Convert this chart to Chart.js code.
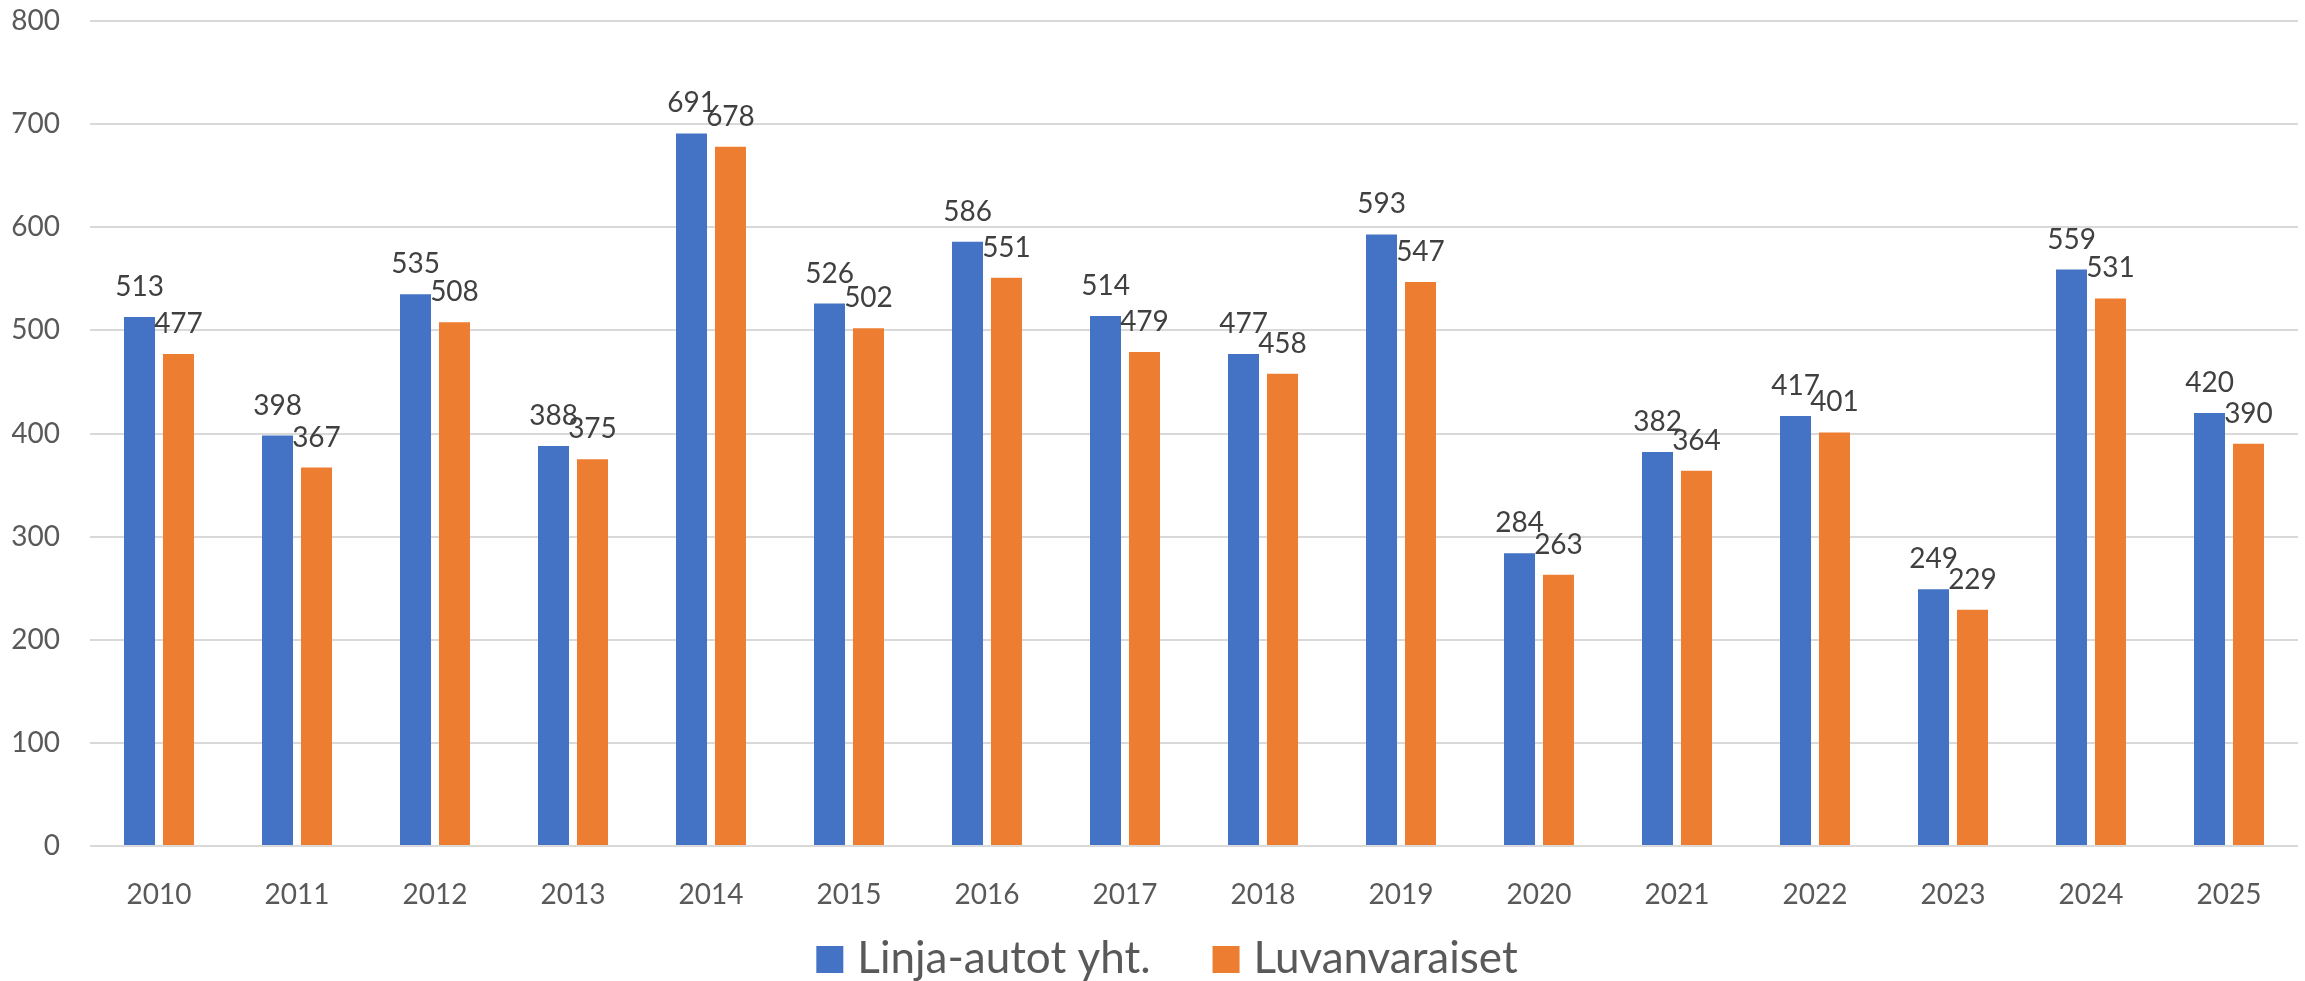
<!DOCTYPE html>
<html>
<head>
<meta charset="utf-8">
<script src="https://cdn.jsdelivr.net/npm/chart.js@4/dist/chart.umd.min.js"></script>
<style>
  html, body { margin: 0; padding: 0; background: #fff; }
  #wrap { width: 2305px; height: 981px; }
</style>
</head>
<body>
<div id="wrap"><canvas id="busChart"></canvas></div>
<script>
// data
const years = ['2010','2011','2012','2013','2014','2015','2016','2017','2018','2019','2020','2021','2022','2023','2024','2025'];
const linjaAutot = [513,398,535,388,691,526,586,514,477,593,284,382,417,249,559,420];
const luvanvaraiset = [477,367,508,375,678,502,551,479,458,547,263,364,401,229,531,390];
const yTicks = [0,100,200,300,400,500,600,700,800];

// numbers above bars
const valueLabels = {
    id: 'valueLabels',
    afterDatasetsDraw(chart) {
        const ctx = chart.ctx;
        ctx.save();
        ctx.font = '28px Lato';
        ctx.fillStyle = '#404040';
        ctx.textAlign = 'center';
        ctx.textBaseline = 'alphabetic';
        chart.data.datasets.forEach((ds, i) => {
            chart.getDatasetMeta(i).data.forEach((bar, j) => {
                ctx.fillText(ds.data[j], bar.x, bar.y - 21);
            });
        });
        ctx.restore();
    }
};

// legend under the axis, drawn by hand so the spacing matches
const bottomLegend = {
    id: 'bottomLegend',
    afterDraw(chart) {
        const ctx = chart.ctx;
        const box = 27, gapText = 14, gapItem = 62, base = 973;
        ctx.save();
        ctx.font = '44px Lato';
        ctx.textBaseline = 'alphabetic';
        ctx.textAlign = 'left';
        const items = chart.data.datasets.map(ds => ({
            text: ds.label, color: ds.backgroundColor, w: ctx.measureText(ds.label).width
        }));
        let total = 0;
        items.forEach((it, i) => { total += box + gapText + it.w + (i ? gapItem : 0); });
        let x = 1167 - total / 2;
        items.forEach(it => {
            ctx.fillStyle = it.color;
            ctx.fillRect(x, base - box, box, box);
            ctx.fillStyle = '#595959';
            ctx.fillText(it.text, x + box + gapText, base);
            x += box + gapText + it.w + gapItem;
        });
        ctx.restore();
    }
};

const busCtx = document.getElementById('busChart');

new Chart(busCtx, {
    type: 'bar',
    data: {
        labels: years,
        datasets: [{
            label: 'Linja-autot yht.',
            data: linjaAutot,
            backgroundColor: '#4472C4',
            borderWidth: 0,
            categoryPercentage: 0.565,
            barPercentage: 0.795
        }, {
            label: 'Luvanvaraiset',
            data: luvanvaraiset,
            backgroundColor: '#ED7D31',
            borderWidth: 0,
            categoryPercentage: 0.565,
            barPercentage: 0.795
        }]
    },
    options: {
        responsive: true,
        maintainAspectRatio: false,
        animation: false,
        layout: { padding: { top: 21, left: 12, right: 7, bottom: 75 } },
        plugins: {
            tooltip: { enabled: false },
            legend: { display: false }
        },
        scales: {
            x: {
                grid: { display: false },
                border: { display: false },
                ticks: {
                    font: { family: 'Lato', size: 28 },
                    color: '#595959',
                    padding: 24
                },
                afterFit(scale) { scale.height = 60; }
            },
            y: {
                min: 0,
                max: 800,
                afterBuildTicks(scale) {
                    scale.ticks = yTicks.map(v => ({ value: v }));
                },
                grid: { color: '#D9D9D9', lineWidth: 2, drawTicks: false },
                border: { display: false },
                ticks: {
                    font: { family: 'Lato', size: 28 },
                    color: '#595959',
                    padding: 30
                },
                afterFit(scale) {
                    scale.width = 78;
                    scale.paddingTop = 0;
                    scale.paddingBottom = 0;
                }
            }
        }
    },
    plugins: [valueLabels, bottomLegend]
});
</script>
</body>
</html>
